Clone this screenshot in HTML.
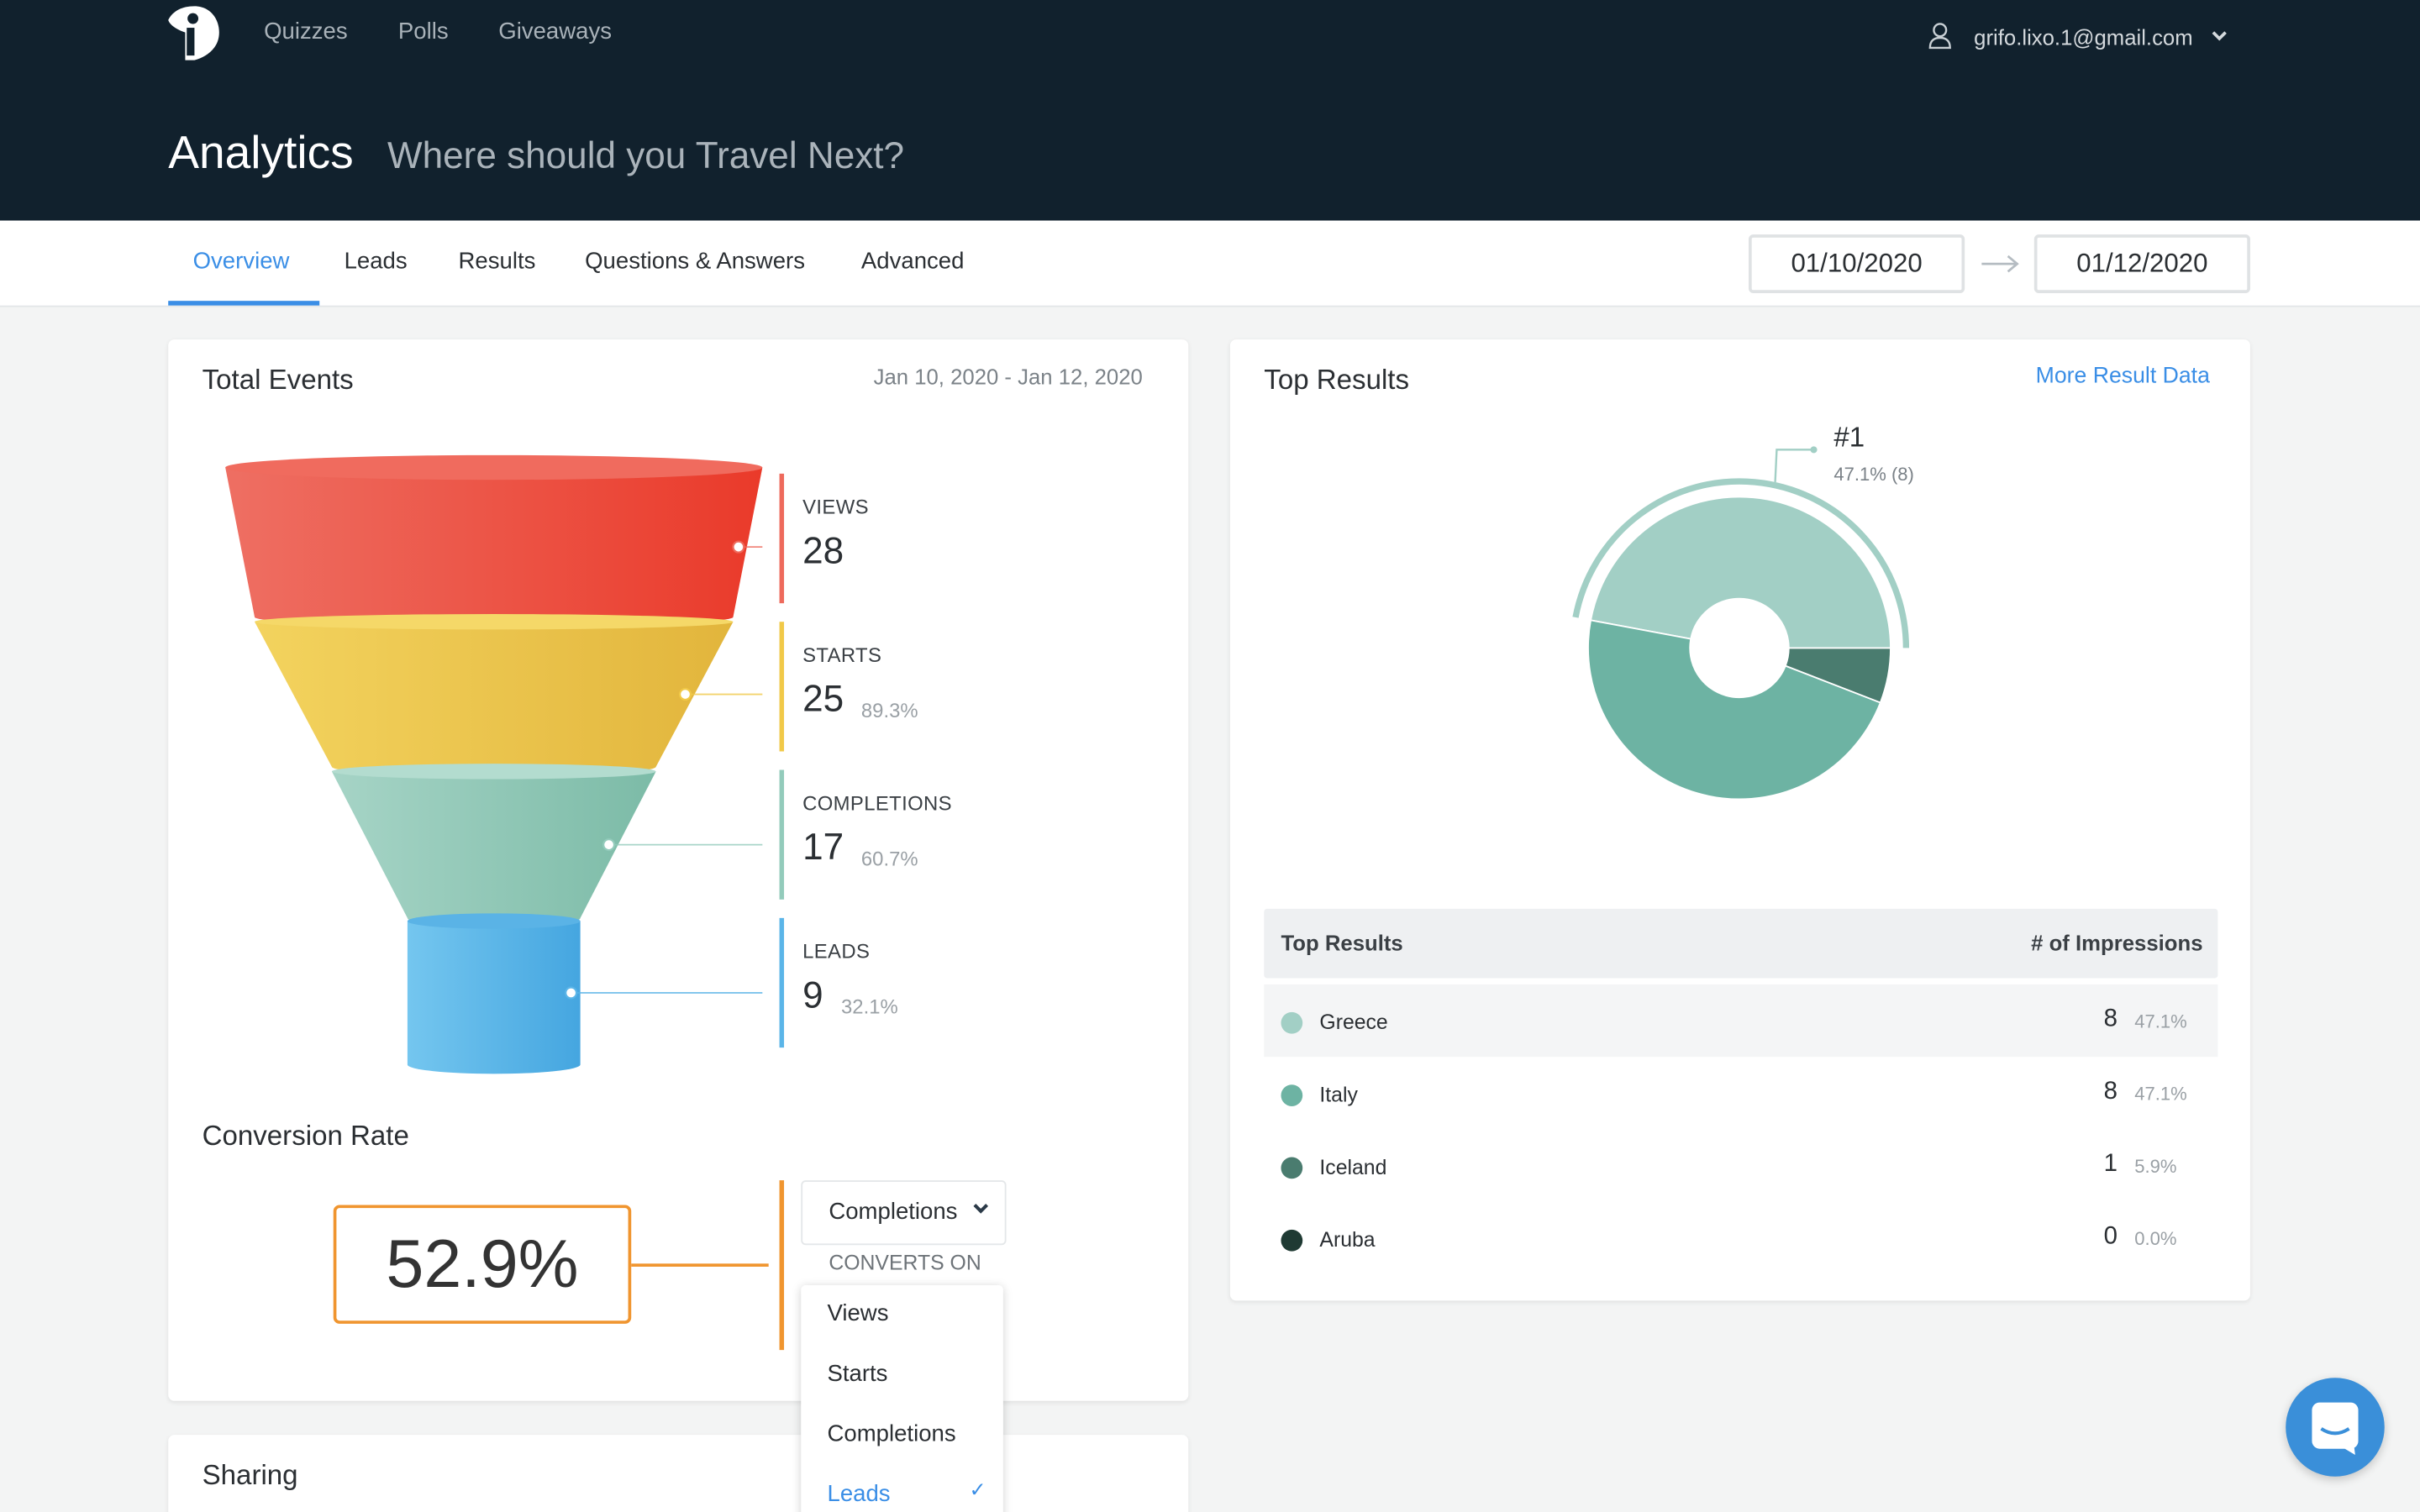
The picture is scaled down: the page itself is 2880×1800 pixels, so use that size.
<!DOCTYPE html>
<html><head><meta charset="utf-8">
<style>
html,body{margin:0;padding:0;width:2880px;height:1800px;overflow:hidden;background:#f3f4f4;}
#wrap{position:absolute;left:0;top:0;width:1568px;height:980px;transform:scale(1.836735);transform-origin:0 0;font-family:"Liberation Sans",sans-serif;color:#2b2f33;background:#f3f4f4;overflow:hidden;}
.abs{position:absolute;}
.card{position:absolute;background:#fff;border-radius:4px;box-shadow:0 1px 3px rgba(0,0,0,0.08);}
.nav{color:#a9b2b9;font-size:15px;}
.tab{font-size:15px;color:#2b2f33;top:161px;}
.date{border:2px solid #dfe2e4;border-radius:3px;font-size:17px;text-align:center;line-height:34px;width:136px;height:34px;top:152px;background:#fff;}
.lbl{font-size:13px;color:#3b4045;letter-spacing:0.2px;}
.big{font-size:24px;color:#2b2f33;}
.pct{font-size:13px;color:#9aa0a5;}
.row{font-size:13.5px;color:#2b2f33;}
.dot{width:14px;height:14px;border-radius:7px;}
</style></head><body>
<div id="wrap">
 <div class="abs" style="left:0;top:0;width:1568px;height:143px;background:#11212d;"></div>
 <svg class="abs" style="left:108px;top:3px" width="36" height="38"><path d="M12 36 L12 18 C6 16 2 13 1 10 C4 4 10 1 18 1 C28 1 34 9 34 18 C34 28 26 34 18 36 Z" fill="#fff"/><circle cx="17" cy="9" r="3.5" fill="#11212d"/><rect x="13" y="15" width="5" height="18" fill="#11212d"/></svg>
 <div class="abs nav" style="left:171px;top:12px">Quizzes</div>
 <div class="abs nav" style="left:258px;top:12px">Polls</div>
 <div class="abs nav" style="left:323px;top:12px">Giveaways</div>
 <svg class="abs" style="left:1249px;top:14px" width="16" height="18"><circle cx="8" cy="5.5" r="4" fill="none" stroke="#c9d0d5" stroke-width="1.3"/><path d="M1.5 17 C1.5 12 4.5 10.5 8 10.5 C11.5 10.5 14.5 12 14.5 17 Z" fill="none" stroke="#c9d0d5" stroke-width="1.3"/></svg>
 <div class="abs" style="left:1279px;top:16px;font-size:14px;color:#d4d9dd">grifo.lixo.1@gmail.com</div>
 <svg class="abs" style="left:1432px;top:19px" width="12" height="9"><path d="M2 2 L6 6 L10 2" stroke="#d4d9dd" stroke-width="2" fill="none"/></svg>
 <div class="abs" style="left:109px;top:83px;font-size:30px;color:#fff">Analytics</div>
 <div class="abs" style="left:251px;top:88px;font-size:24px;color:#aab3ba">Where should you Travel Next?</div>

 <div class="abs" style="left:0;top:143px;width:1568px;height:55px;background:#fff;border-bottom:1px solid #e3e6e8"></div>
 <div class="abs tab" style="left:125px;color:#3a8ee6">Overview</div>
 <div class="abs" style="left:109px;top:195px;width:98px;height:3px;background:#3a8ee6"></div>
 <div class="abs tab" style="left:223px">Leads</div>
 <div class="abs tab" style="left:297px">Results</div>
 <div class="abs tab" style="left:379px">Questions &amp; Answers</div>
 <div class="abs tab" style="left:558px">Advanced</div>
 <div class="abs date" style="left:1133px">01/10/2020</div>
 <svg class="abs" style="left:1283px;top:164px" width="26" height="14"><path d="M1 7 H24 M18 2 L24 7 L18 12" stroke="#b5bcc2" stroke-width="1.5" fill="none"/></svg>
 <div class="abs date" style="left:1318px">01/12/2020</div>

 <div class="card" style="left:109px;top:220px;width:661px;height:688px"></div>
 <div class="abs" style="left:131px;top:236px;font-size:18px">Total Events</div>
 <div class="abs" style="left:566px;top:236px;font-size:14px;color:#7b8288">Jan 10, 2020 - Jan 12, 2020</div>
 <svg id="funnel" class="abs" style="left:0;top:0" width="770" height="720">
  <defs>
   <linearGradient id="gR" x1="0" x2="1"><stop offset="0" stop-color="#ee6f63"/><stop offset="1" stop-color="#ea3a2a"/></linearGradient>
   <linearGradient id="gY" x1="0" x2="1"><stop offset="0" stop-color="#f3d35e"/><stop offset="1" stop-color="#e2b53c"/></linearGradient>
   <linearGradient id="gG" x1="0" x2="1"><stop offset="0" stop-color="#a6d4c6"/><stop offset="1" stop-color="#7cbba7"/></linearGradient>
   <linearGradient id="gB" x1="0" x2="1"><stop offset="0" stop-color="#74c6ef"/><stop offset="1" stop-color="#45a6e0"/></linearGradient>
  </defs>
 </svg>
 <div class="abs" style="left:131px;top:726px;font-size:18px">Conversion Rate</div>
 <div class="abs" style="left:216px;top:781px;width:189px;height:73px;border:2px solid #f0952f;border-radius:4px;text-align:center;line-height:73px;font-size:44px;color:#333">52.9%</div>
 <div class="abs" style="left:409px;top:819px;width:89px;height:2px;background:#f0952f"></div>
 <div class="abs" style="left:505px;top:765px;width:3px;height:110px;background:#f0952f"></div>
 <div class="abs" style="left:519px;top:765px;width:131px;height:40px;border:1px solid #e4e7e9;border-radius:3px;background:#fff"></div>
 <div class="abs" style="left:537px;top:777px;font-size:15px">Completions</div>
 <svg class="abs" style="left:630px;top:779px" width="11" height="9"><path d="M1.5 2 L5.5 6 L9.5 2" stroke="#2b3a48" stroke-width="2.2" fill="none"/></svg>
 <div class="abs" style="left:537px;top:811px;font-size:13.5px;color:#6d7378">CONVERTS ON</div>

 <div class="card" style="left:109px;top:930px;width:661px;height:60px"></div>
 <div class="abs" style="left:131px;top:946px;font-size:18px">Sharing</div>

 <div class="abs" style="left:519px;top:833px;width:131px;height:160px;background:#fff;border-radius:3px;box-shadow:0 1px 6px rgba(0,0,0,0.18)"></div>
 <div class="abs" style="left:536px;top:843px;font-size:15px">Views</div>
 <div class="abs" style="left:536px;top:882px;font-size:15px">Starts</div>
 <div class="abs" style="left:536px;top:921px;font-size:15px">Completions</div>
 <div class="abs" style="left:536px;top:960px;font-size:15px;color:#3a8ee6">Leads</div>
 <div class="abs" style="left:628px;top:958px;font-size:13px;color:#3a8ee6">✓</div>

 <div class="card" style="left:797px;top:220px;width:661px;height:623px"></div>
 <div class="abs" style="left:819px;top:236px;font-size:18px">Top Results</div>
 <div class="abs" style="left:1319px;top:236px;font-size:14.5px;color:#3a8ee6">More Result Data</div>
 <svg id="donut" class="abs" style="left:797px;top:260px" width="661" height="320"></svg>
 <div class="abs" style="left:819px;top:589px;width:618px;height:45px;background:#eef0f2;border-radius:2px"></div>
 <div class="abs" style="left:830px;top:603px;font-size:14px;font-weight:bold;color:#3b4045">Top Results</div>
 <div class="abs" style="left:1316px;top:603px;font-size:14px;font-weight:bold;color:#3b4045"># of Impressions</div>

 <div class="abs" style="left:1481px;top:893px;width:64px;height:64px;border-radius:32px;background:#3a8fd9;box-shadow:0 2px 6px rgba(0,0,0,0.2)">
  <svg width="64" height="64"><rect x="17" y="16" width="30" height="30" rx="5" fill="#fff"/><path d="M35 44 L45 50 L44 42 Z" fill="#fff"/><path d="M23 33 Q32 39 41 33" stroke="#3a8fd9" stroke-width="2.2" fill="none"/></svg>
 </div>
</div>
<script>
// Funnel data
const stageNames = ["VIEWS","STARTS","COMPLETIONS","LEADS"];
const stageValues = [28, 25, 17, 9];
const stagePcts = ["", "89.3%", "60.7%", "32.1%"];
// Donut data
const resultNames = ["Greece","Italy","Iceland","Aruba"];
const resultValues = [8, 8, 1, 0];
const resultPcts = ["47.1%","47.1%","5.9%","0.0%"];

const NS="http://www.w3.org/2000/svg";
function mk(parent,tag,attrs){const e=document.createElementNS(NS,tag);for(const k in attrs)e.setAttribute(k,attrs[k]);parent.appendChild(e);return e;}
const wrap=document.getElementById('wrap');
function div(style,text){const d=document.createElement('div');d.className='abs';d.style.cssText=style;if(text!==undefined)d.textContent=text;wrap.appendChild(d);return d;}

// funnel: fixed decorative shape per stage, labels from data
const fsvg=document.getElementById('funnel');
const cx=320;
const segTop=[303,403,500,597], segBot=[400,497,595,690];
const shapeTopRx=[174,155,105,56], shapeBotRx=[155,105,56,56];
const fills=['url(#gR)','url(#gY)','url(#gG)','url(#gB)'];
const topEll=['#f06b5e','#f5d868','#b3dccf','#5ab3e6'];
const barColors=['#ee6a5c','#f1c948','#93cbbb','#5bb5e8'];
for(let i=0;i<stageValues.length;i++){
  const rt=shapeTopRx[i], rb=shapeBotRx[i];
  const t=segTop[i],b=segBot[i];
  const g=mk(fsvg,'g',{});
  
  
  mk(g,'path',{d:`M${cx-rt} ${t} L${cx-rb} ${b} A${rb} 6 0 0 0 ${cx+rb} ${b} L${cx+rt} ${t} Z`,fill:fills[i]});
  mk(g,'ellipse',{cx:cx,cy:t,rx:rt,ry:i==0?8:5,fill:topEll[i]});
  const my=(t+b)/2+(i==0?3:0);
  const lx=cx+(rt+rb)/2-6;
  mk(g,'line',{x1:lx,y1:my,x2:494,y2:my,stroke:barColors[i],'stroke-width':1,opacity:0.8});
  mk(g,'circle',{cx:lx,cy:my,r:3.5,fill:'#fff',stroke:barColors[i],'stroke-width':1.2});
  const by=307+i*96;
  const bar=mk(fsvg,'rect',{x:505,y:by,width:3,height:84,fill:barColors[i]});
  
  
  const l=div(`left:520px;top:${by+14}px;`,stageNames[i]);l.className='abs lbl';
  
  
  const v=div(`left:520px;top:${by+37}px;`,String(stageValues[i]));v.className='abs big';
  
  
  if(stagePcts[i]){const p=div(`left:${520+String(stageValues[i]).length*13+12}px;top:${by+50}px;`,stagePcts[i]);p.className='abs pct';
  
  }
}

// donut
const dsvg=document.getElementById('donut');
const dcx=330,dcy=160,R=98,r=32;
const colors=['#a2cfc5','#6db3a3','#4a7c6f','#1f3a33'];
const total=resultValues.reduce((a,b)=>a+b,0);
function pt(rad,ang){return [dcx+rad*Math.cos(ang),dcy-rad*Math.sin(ang)];}
let a0=0;
resultValues.forEach((v,i)=>{
  const a1=a0+v/total*2*Math.PI;
  if(v>0){
    const [x1,y1]=pt(R,a0),[x2,y2]=pt(R,a1),[x3,y3]=pt(r,a1),[x4,y4]=pt(r,a0);
    const large=(a1-a0)>Math.PI?1:0;
    const p=mk(dsvg,'path',{d:`M${x1} ${y1} A${R} ${R} 0 ${large} 0 ${x2} ${y2} L${x3} ${y3} A${r} ${r} 0 ${large} 1 ${x4} ${y4} Z`,fill:colors[i],stroke:'#fff','stroke-width':1});
    
    
    if(i===0){
      const [hx1,hy1]=pt(R+10,a0),[hx2,hy2]=pt(R+10,a1);
      const h=mk(dsvg,'path',{d:`M${hx1} ${hy1} A${R+10} ${R+10} 0 ${large} 0 ${hx2} ${hy2}`,fill:'none',stroke:colors[0],'stroke-width':4});
      
      
      const am=(a0+a1)/2;const [mx,my]=pt(R+12,am-0.12);
      const c=mk(dsvg,'path',{d:`M${mx} ${my} L${mx+1} ${my-21} L${mx+25} ${my-21}`,fill:'none',stroke:colors[0],'stroke-width':1.3});
      
      
      mk(dsvg,'circle',{cx:mx+25,cy:my-21,r:2.2,fill:colors[0]});
      const t1=mk(dsvg,'text',{x:mx+38,y:my-23,'font-size':18,fill:'#2b2f33','font-family':'Liberation Sans'});t1.textContent='#1';
      
      
      const t2=mk(dsvg,'text',{x:mx+38,y:my-1,'font-size':12,fill:'#7b8288','font-family':'Liberation Sans'});t2.textContent=resultPcts[0]+' ('+v+')';
      
      
    }
  }
  a0=a1;
});

// table rows
resultNames.forEach((n,i)=>{
  const y=663+i*47;
  if(i===0){const bg=div('left:819px;top:638px;width:618px;height:47px;background:#f4f5f6');
    
    }
  const d=div(`left:830px;top:${y-7}px;background:${colors[i]}`);d.className='abs dot';
  
  
  const t=div(`left:855px;top:${y-8}px;`,n);t.className='abs row';
  
  
  const v=div(`left:1340px;width:32px;text-align:right;top:${y-11}px;font-size:16px;`,String(resultValues[i]));
  
  
  const p=div(`left:1383px;top:${y-8}px;font-size:12px;color:#9aa0a5`,resultPcts[i]);
  
  
});
</script>
</body></html>
